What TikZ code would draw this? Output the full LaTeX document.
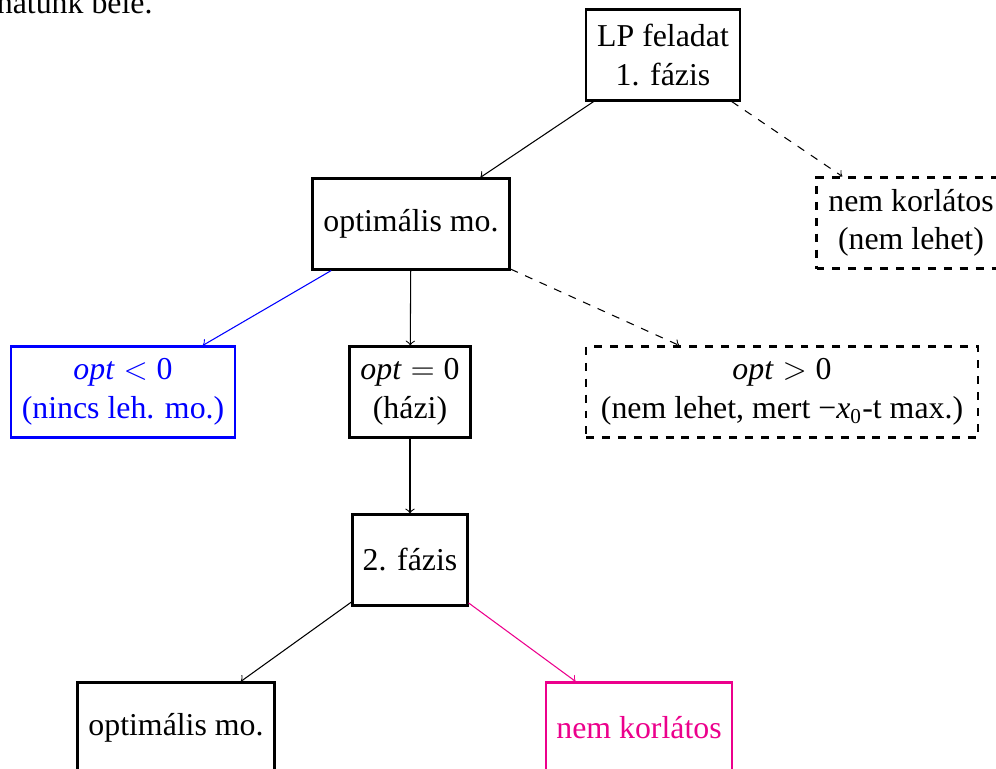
\documentclass[tikz,border=0pt]{standalone}
\usepackage{fontspec}
\setmainfont{Liberation Serif}
\definecolor{pinkc}{RGB}{236,0,140}
\definecolor{bluec}{RGB}{0,0,255}
\begin{document}
\begin{tikzpicture}[x=0.377pt,y=-0.377pt,
  every node/.style={font=\fontsize{12}{14.5}\selectfont},
  box/.style={draw,line width=0.8pt,align=center,inner sep=0pt,minimum height={91*0.377pt}},
  dbox/.style={box,dashed},
  conn/.style={->,line width=0.4pt},
  dconn/.style={conn,dashed}]
\useasboundingbox (0,0) rectangle (996,769);
\clip (0,0) rectangle (996,769);
\node[anchor=base east,inner sep=0pt] (prev) at (153,13) {hatunk bele.};
\node[box,minimum width={154*0.377pt}] (lp) at (663,55) {LP feladat\\1. fázis};
\node[box,minimum width={197*0.377pt}] (opt) at (411,224) {optimális mo.};
\node[dbox,minimum width={189*0.377pt}] (nk1) at (911,223) {nem korlátos\\(nem lehet)};
\node[box,draw=bluec,text=bluec,minimum width={224*0.377pt}] (neg) at (123,392) {\textit{opt}${}<{}$0\\(nincs leh. mo.)};
\node[box,minimum width={121*0.377pt}] (zero) at (410,392) {\textit{opt}${}={}$0\\(házi)};
\node[dbox,minimum width={392*0.377pt}] (pos) at (782,392) {\textit{opt}${}>{}$0\\(nem lehet, mert −\textit{x}\textsubscript{0}-t max.)};
\node[box,minimum width={115*0.377pt}] (f2) at (410,560) {2. fázis};
\node[box,minimum width={197*0.377pt}] (optb) at (176,728) {optimális mo.};
\node[box,draw=pinkc,text=pinkc,minimum width={186*0.377pt}] (nk2) at (639,728) {nem korlátos};
\draw[conn] (lp) -- (opt);
\draw[dconn] (lp) -- (nk1);
\draw[conn,draw=bluec] (opt) -- (neg);
\draw[conn] (opt) -- (zero);
\draw[dconn] (opt) -- (pos);
\draw[conn] (zero) -- (f2);
\draw[conn] (f2) -- (optb);
\draw[conn,draw=pinkc] (f2) -- (nk2);
\end{tikzpicture}
\end{document}
